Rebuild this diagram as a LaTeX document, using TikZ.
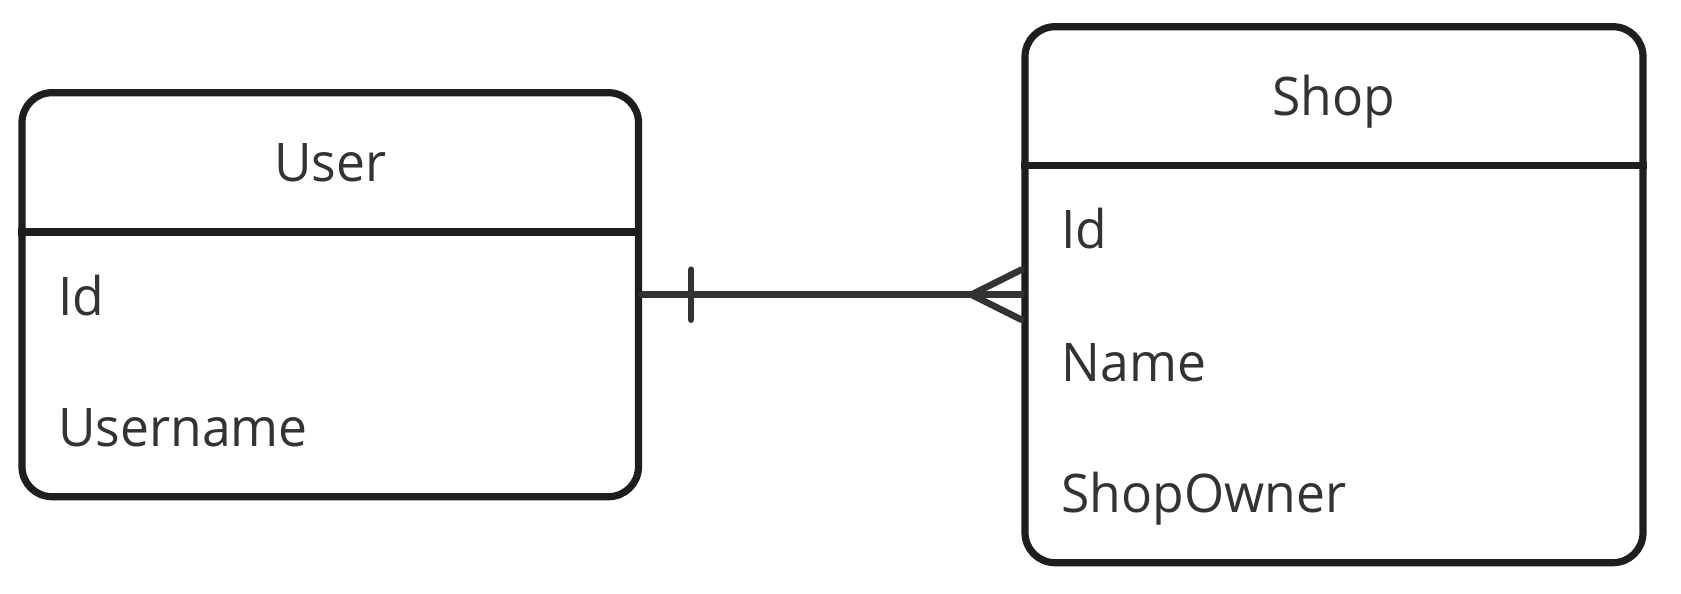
\documentclass[tikz,border=0pt]{standalone}
\usepackage{fontspec}
\setmainfont{Open Sans}[FakeStretch=0.97]
\usetikzlibrary{positioning,calc}
\definecolor{boxline}{HTML}{1E1E1E}
\definecolor{textgray}{HTML}{333333}
\tikzset{
  entity/.style   = {draw=boxline, line width=3.6pt, rectangle, rounded corners=15pt,
                     inner sep=0pt},
  separator/.style = {draw=boxline, line width=3.6pt},
  title/.style    = {anchor=base, inner sep=0pt, text=textgray,
                     font=\fontsize{26.6}{32}\selectfont},
  field/.style    = {title, anchor=base west},
  relation/.style = {draw=textgray, line width=3.3pt, line cap=round}
}

\begin{document}
\begin{tikzpicture}[x=0.5pt, y=-0.5pt]
	\useasboundingbox (0,0) rectangle (1681,594);

	% the two entity boxes
	\node[entity, minimum width=308.25pt, minimum height=202pt] (user) at (330.25,294.7) {};
	\node[entity, minimum width=309pt, minimum height=268pt] (shop) at (1334,294.7) {};

	% header separators
	\coordinate (usersep) at (0,232);
	\coordinate (shopsep) at (0,165.7);
	\draw[separator] (user.west |- usersep) -- (user.east |- usersep);
	\draw[separator] (shop.west |- shopsep) -- (shop.east |- shopsep);

	% entity names
	\node[title] (usertitle) at (330.25,181.7) {User};
	\node[title] (shoptitle) at (1334,115) {Shop};

	% attributes
	\begin{scope}[every node/.style={field}]
	\node (userid) at (58,315) {Id};
	\node (username) at (58,446) {Username};
	\node (shopid) at (1061,248) {Id};
	\node (shopname) at (1061,381) {Name};
	\node (shopowner) at (1061,512) {ShopOwner};
	\end{scope}

	% one-to-many relation
	\draw[relation] (user.east) -- (shop.west);
	\draw[relation] ([xshift=24.5pt, yshift=12.5pt]user.east)
	  -- ([xshift=24.5pt, yshift=-12.5pt]user.east);
	\draw[relation] ([yshift=12.5pt]shop.west) -- ([xshift=-25pt]shop.west)
	  -- ([yshift=-12.5pt]shop.west);

\end{tikzpicture}
\end{document}
